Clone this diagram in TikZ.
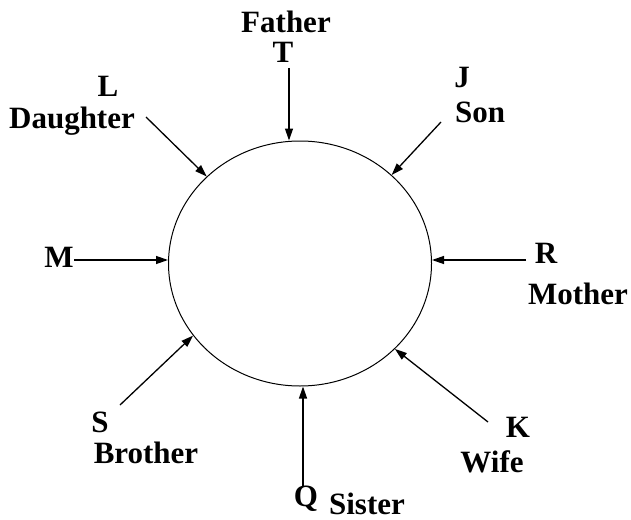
\documentclass[tikz,border=0pt]{standalone}
\usepackage{fontspec}
\setmainfont{Liberation Serif}
\usetikzlibrary{arrows.meta, shapes.geometric}

\begin{document}
\begin{tikzpicture}[
    x=0.5pt, y=-0.5pt,
    lbl/.style={font=\bfseries\fontsize{15.5}{17}\selectfont, inner sep=0pt, anchor=base},
    arr/.style={-{Triangle[length=6pt,width=4pt]}, line width=0.65pt},
    ring/.style={draw, ellipse, line width=0.5pt, inner sep=0pt,
                 minimum width=131.5pt, minimum height=122.5pt}
]
  \useasboundingbox (0,0) rectangle (631,519);

  % Family circle
  \node[ring] (ring) at (300,263.5) {};

  % Labels (placed at their baselines)
  \node[lbl] (father) at (286,33) {Father};
  \node[lbl] (t) at (283,63) {T};
  \node[lbl] (l) at (108,97) {L};
  \node[lbl] (daughter) at (72,128) {Daughter};
  \node[lbl] (j) at (462,88) {J};
  \node[lbl] (son) at (480,122) {Son};
  \node[lbl] (m) at (59,267) {M};
  \node[lbl] (r) at (546,263) {R};
  \node[lbl] (mother) at (578,304) {Mother};
  \node[lbl] (s) at (100,432) {S};
  \node[lbl] (brother) at (146,463) {Brother};
  \node[lbl] (q) at (306,506) {Q};
  \node[lbl] (sister) at (367,514) {Sister};
  \node[lbl] (k) at (518,437) {K};
  \node[lbl] (wife) at (492,472) {Wife};

  % Arrow tails
  \coordinate (tT) at (289,68);
  \coordinate (tL) at (146,117);
  \coordinate (tJ) at (441,122);
  \coordinate (tM) at (74,260);
  \coordinate (tR) at (526,260);
  \coordinate (tS) at (120,405);
  \coordinate (tQ) at (303,487);
  \coordinate (tK) at (488,422);

  % Arrows
  \draw[arr] (tT) -- (tT |- ring.north);
  \draw[arr] (tL) -- (ring.137);
  \draw[arr] (tJ) -- (ring.44);
  \draw[arr] (tM) -- (tM -| ring.west);
  \draw[arr] (tR) -- (tR -| ring.east);
  \draw[arr] (tS) -- (ring.214);
  \draw[arr] (tQ) -- (tQ |- ring.south);
  \draw[arr] (tK) -- (ring.318);
\end{tikzpicture}
\end{document}
